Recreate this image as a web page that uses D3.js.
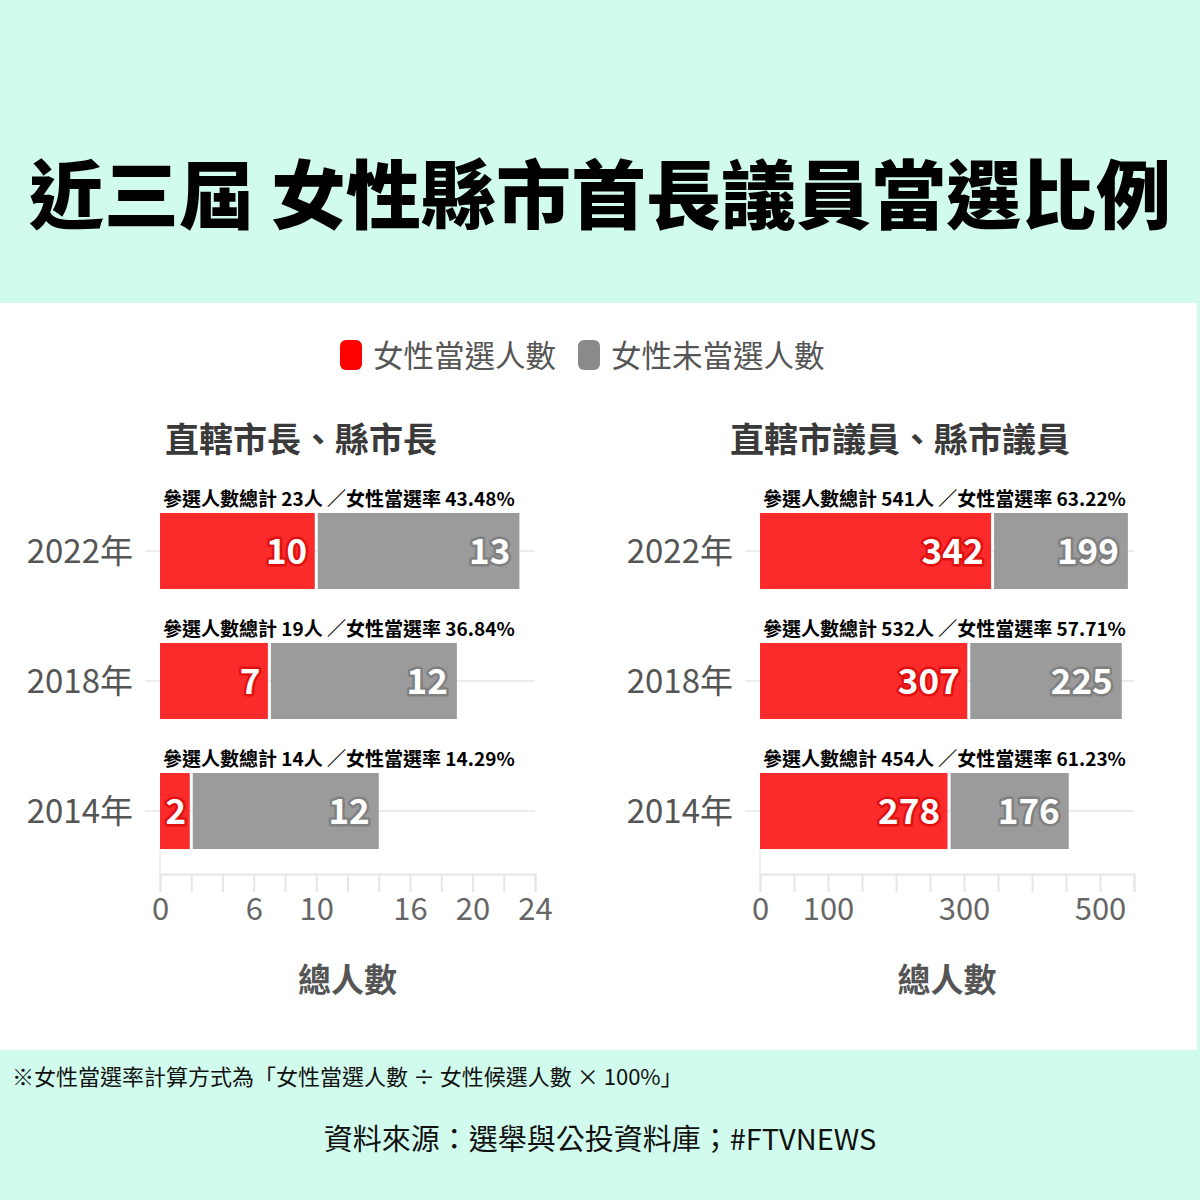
<!DOCTYPE html>
<html>
<head>
<meta charset="utf-8">
<script src="https://cdn.jsdelivr.net/npm/d3@7"></script>
<style>
  body { margin: 0; background: #d1fced; }
  svg { display: block; font-family: "Noto Sans CJK TC", "Noto Sans", sans-serif; }
</style>
</head>
<body>
<script>
var years = ['2022年', '2018年', '2014年'];
var seriesNames = ['女性當選人數', '女性未當選人數'];

// 直轄市長、縣市長
var mayorWon = [10, 7, 2];
var mayorLost = [13, 12, 12];
var mayorTicks = [0, 6, 10, 16, 20, 24];

// 直轄市議員、縣市議員
var councilWon = [342, 307, 278];
var councilLost = [199, 225, 176];
var councilTicks = [0, 100, 300, 500];

var colors = ['#fc2b2b', '#9b9b9b'];
var haloColors = ['#e01010', '#808080'];

var w = 1200;
var h = 1200;

var svg = d3.select('body')
  .append('svg')
  .attr('width', w)
  .attr('height', h);

// backgrounds
svg.append('rect').attr('x', 0).attr('y', 0).attr('width', w).attr('height', h).attr('fill', '#d1fced');
svg.append('rect').attr('x', 0).attr('y', 303).attr('width', 1197).attr('height', 747).attr('fill', '#ffffff');

svg.append('text')
  .attr('x', 600)
  .attr('y', 223)
  .attr('text-anchor', 'middle')
  .attr('font-size', 75)
  .attr('font-weight', 900)
  .attr('fill', '#000')
  .text('近三屆 女性縣市首長議員當選比例');

// legend
var legendX = [340, 578];
seriesNames.forEach((name, i) => {
  svg.append('rect')
    .attr('x', legendX[i])
    .attr('y', 340)
    .attr('width', 22)
    .attr('height', 30)
    .attr('rx', 6)
    .attr('fill', i === 0 ? '#ff0000' : '#8a8a8a');
  svg.append('text')
    .attr('x', legendX[i] + 33)
    .attr('y', 367)
    .attr('font-size', 30.5)
    .attr('fill', '#555')
    .text(name);
});

var drawChart = (cfg) => {
  var g = svg.append('g');

  var x = d3.scaleLinear().domain(cfg.domain).range([cfg.x0, cfg.x1]);
  var y = d3.scaleBand().domain(years).range([486, 876]).paddingInner(0.415).paddingOuter(0.2075);

  g.append('text')
    .attr('x', cfg.titleX)
    .attr('y', 452)
    .attr('font-size', 34)
    .attr('font-weight', 700)
    .attr('fill', '#3a3a3a')
    .text(cfg.title);

  // horizontal grid at band centers
  g.selectAll('.grid')
    .data(years)
    .enter()
    .append('line')
    .attr('x1', cfg.x0 - 15)
    .attr('x2', cfg.x1)
    .attr('y1', d => y(d) + y.bandwidth() / 2)
    .attr('y2', d => y(d) + y.bandwidth() / 2)
    .attr('stroke', '#ececec')
    .attr('stroke-width', 2);

  // y labels
  g.selectAll('.ylab')
    .data(years)
    .enter()
    .append('text')
    .attr('x', cfg.x0 - 27)
    .attr('y', d => y(d) + y.bandwidth() / 2)
    .attr('dy', '0.35em')
    .attr('text-anchor', 'end')
    .attr('font-size', 33)
    .attr('fill', '#555')
    .text(d => d);

  // x axis
  var xAxis = d3.axisBottom(x)
    .tickValues(d3.range(cfg.domain[0], cfg.domain[1] + cfg.step / 2, cfg.step))
    .tickSize(18)
    .tickFormat(d => cfg.tickLabels.indexOf(d) >= 0 ? d : '');
  var ax = g.append('g')
    .attr('transform', 'translate(0,874)')
    .call(xAxis);
  ax.select('.domain').attr('stroke', '#e6e6e6').attr('stroke-width', 2);
  ax.selectAll('.tick line').attr('stroke', '#e6e6e6').attr('stroke-width', 2);
  ax.selectAll('.tick text')
    .attr('y', 24)
    .attr('dy', '0.71em')
    .attr('font-family', '"Noto Sans CJK TC", sans-serif')
    .attr('font-size', 31)
    .attr('fill', '#666');

  g.append('line')
    .attr('x1', cfg.x0).attr('x2', cfg.x0)
    .attr('y1', 850).attr('y2', 874)
    .attr('stroke', '#eeeeee')
    .attr('stroke-width', 2);

  g.append('text')
    .attr('x', (cfg.x0 + cfg.x1) / 2)
    .attr('y', 992)
    .attr('text-anchor', 'middle')
    .attr('font-size', 33)
    .attr('font-weight', 700)
    .attr('fill', '#555')
    .text('總人數');

  var rows = years.map((yr, i) => ({
    year: yr,
    won: cfg.won[i],
    lost: cfg.lost[i],
    total: cfg.won[i] + cfg.lost[i]
  }));

  var segs = [];
  rows.forEach(r => {
    segs.push({ year: r.year, s: 0, a: 0, b: r.won, v: r.won });
    segs.push({ year: r.year, s: 1, a: r.won, b: r.total, v: r.lost });
  });

  g.selectAll('.bar')
    .data(segs)
    .enter()
    .append('rect')
    .attr('x', d => x(d.a) + (d.s === 1 ? 1.5 : 0))
    .attr('y', d => y(d.year))
    .attr('width', d => x(d.b) - x(d.a) - 1.5)
    .attr('height', y.bandwidth())
    .attr('fill', d => colors[d.s]);

  g.selectAll('.val')
    .data(segs)
    .enter()
    .append('text')
    .attr('x', d => x(d.b) - (d.v < 5 ? 5 : 9))
    .attr('y', d => y(d.year) + y.bandwidth() / 2)
    .attr('dy', '0.36em')
    .attr('text-anchor', 'end')
    .attr('font-size', 35)
    .attr('font-weight', 700)
    .attr('fill', '#fff')
    .attr('stroke', d => haloColors[d.s])
    .attr('stroke-width', 5)
    .attr('stroke-linejoin', 'round')
    .attr('paint-order', 'stroke')
    .text(d => d.v);

  g.selectAll('.note')
    .data(rows)
    .enter()
    .append('text')
    .attr('x', cfg.x0 + 3)
    .attr('y', d => y(d.year) - 7)
    .attr('font-size', 19)
    .attr('font-weight', 700)
    .attr('fill', '#000')
    .text(d => '參選人數總計 ' + d.total + '人 ／女性當選率 ' + (d.won / d.total * 100).toFixed(2) + '%');
};

drawChart({
  title: '直轄市長、縣市長',
  titleX: 165,
  won: mayorWon,
  lost: mayorLost,
  domain: [0, 24],
  step: 2,
  tickLabels: mayorTicks,
  x0: 160,
  x1: 535
});

drawChart({
  title: '直轄市議員、縣市議員',
  titleX: 730,
  won: councilWon,
  lost: councilLost,
  domain: [0, 550],
  step: 50,
  tickLabels: councilTicks,
  x0: 760,
  x1: 1134
});

svg.append('text')
  .attr('x', 12)
  .attr('y', 1085)
  .attr('font-size', 22)
  .attr('fill', '#111')
  .text('※女性當選率計算方式為「女性當選人數 ÷ 女性候選人數 × 100%」');

svg.append('text')
  .attr('x', 600)
  .attr('y', 1150)
  .attr('text-anchor', 'middle')
  .attr('font-size', 29)
  .attr('fill', '#111')
  .text('資料來源：選舉與公投資料庫；#FTVNEWS');
</script>
</body>
</html>
